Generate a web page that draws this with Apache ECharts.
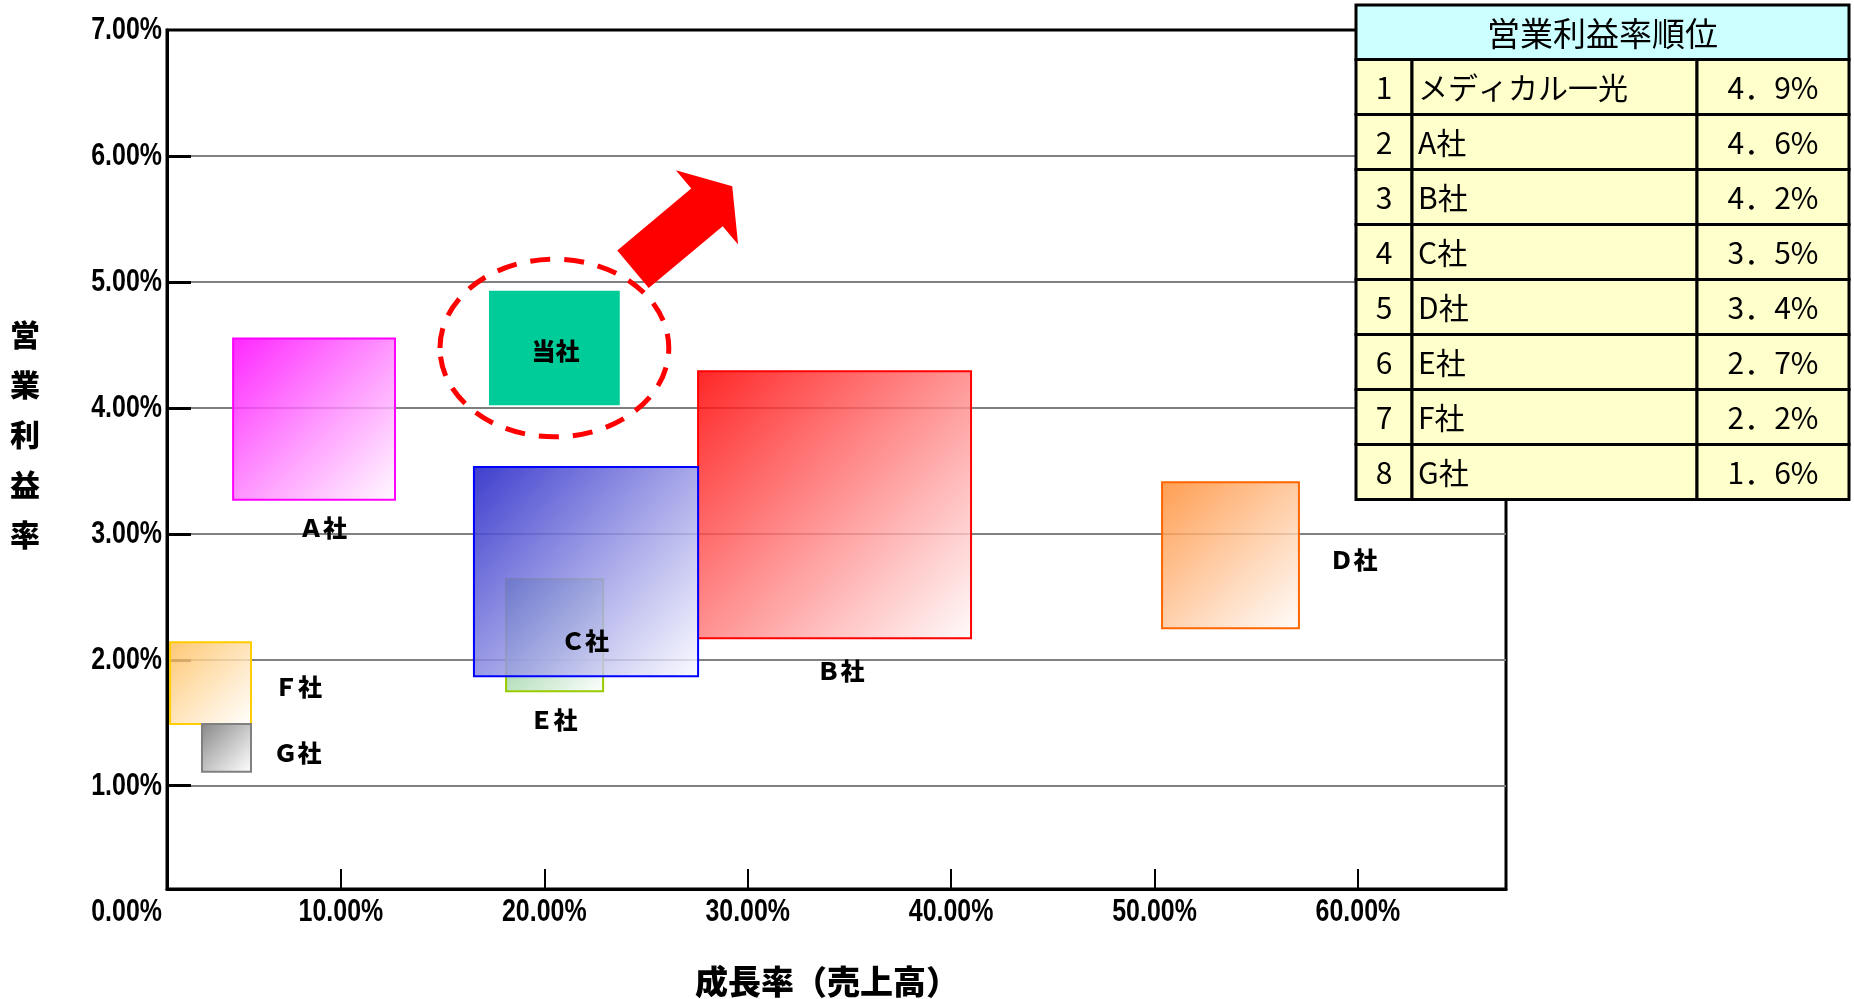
<!DOCTYPE html>
<html>
<head>
<meta charset="utf-8">
<title>営業利益率と成長率</title>
<script src="https://cdn.jsdelivr.net/npm/echarts@6/dist/echarts.min.js"></script>
<style>
  html, body { margin: 0; padding: 0; background: #ffffff; }
  #chart { width: 1854px; height: 999px; }
</style>
</head>
<body>
<div id="chart"></div>
<script>
// ---- data -------------------------------------------------------------
// competitor boxes (drawn in this order, later ones on top)
const companies  = ['Ａ社', 'Ｂ社', 'Ｄ社', 'Ｅ社', 'Ｃ社', 'Ｆ社', 'Ｇ社'];
// sales growth span of each box (%)
const growthLow  = [4.70, 27.56, 50.37, 18.12, 16.54, 1.60, 3.17];
const growthHigh = [12.66, 40.98, 57.10, 22.89, 27.56, 5.58, 5.58];
// operating margin span of each box (%)
const marginLow  = [3.27, 2.17, 2.25, 1.75, 1.87, 1.49, 1.11];
const marginHigh = [4.55, 4.29, 3.41, 2.64, 3.53, 2.14, 1.49];

// our own company
const ownName   = '当社';
const ownGrowth = [17.28, 23.71];
const ownMargin = [4.02, 4.93];

// direction arrow: [growth, margin] from -> to
const arrowFrom = [24.36, 5.10];
const arrowTo   = [29.24, 5.76];

// axis ranges, ticks and tick labels (%)
const xRange = [1.45, 67.28];
const yRange = [0.18, 7];
const xTicks = [10, 20, 30, 40, 50, 60];
const yTicks = [1, 2, 3, 4, 5, 6];
const xTickLabels = [10, 20, 30, 40, 50, 60];
const yTickLabels = [0, 1, 2, 3, 4, 5, 6, 7];

// ranking table
const rankTitle  = '営業利益率順位';
const rankNames  = ['メディカル一光', 'A社', 'B社', 'C社', 'D社', 'E社', 'F社', 'G社'];
const rankValues = [4.9, 4.6, 4.2, 3.5, 3.4, 2.7, 2.2, 1.6];

// ---- styles -----------------------------------------------------------
const CJK = '"Noto Sans CJK JP", "Noto Sans CJK SC", sans-serif';
const TICK_FONT = 'bold 32px "Liberation Sans", Arial, sans-serif';
const TICK_SQUEEZE = 0.78;   // condensed look of the tick numbers

const boxStyle = {
  'Ａ社': { edge: '#FF00FF', from: 'rgba(255,0,255,0.85)',  to: 'rgba(255,250,255,0.8)', at: 'bottom', dx: 9,    dy: 28.5 },
  'Ｂ社': { edge: '#FF0000', from: 'rgba(255,0,0,0.85)',    to: 'rgba(255,250,250,0.8)', at: 'bottom', dx: 6,    dy: 32.5 },
  'Ｃ社': { edge: '#0000FF', from: 'rgba(40,40,200,0.9)',   to: 'rgba(250,250,255,0.8)', at: 'bottom', dx: -1,   dy: -35 },
  'Ｄ社': { edge: '#FF6600', from: 'rgba(255,140,50,0.85)', to: 'rgba(255,252,250,0.8)', at: 'right',  dx: 54.5, dy: 4.5 },
  'Ｅ社': { edge: '#99CC00', from: 'rgba(60,170,80,0.75)',  to: 'rgba(255,255,255,0.8)', at: 'bottom', dx: -1,   dy: 29 },
  'Ｆ社': { edge: '#FFCC00', from: 'rgba(255,190,90,0.85)', to: 'rgba(255,255,255,0.8)', at: 'right',  dx: 47,   dy: 4 },
  'Ｇ社': { edge: '#808080', from: 'rgba(120,120,120,0.9)', to: 'rgba(255,255,255,0.8)', at: 'right',  dx: 46.5, dy: 4.5 }
};
const labelFont = '900 24px ' + CJK;

const pct = v => v.toFixed(2) + '%';

// ---- series renderers -------------------------------------------------
function renderBox(params, api) {
  const name = companies[params.dataIndex];
  const st = boxStyle[name];
  const tl = api.coord([api.value(0), api.value(3)]);
  const br = api.coord([api.value(1), api.value(2)]);
  const x = tl[0], y = tl[1], w = br[0] - tl[0], h = br[1] - tl[1];
  let lx, ly;
  if (st.at === 'right') { lx = x + w + st.dx; ly = y + h / 2 + st.dy; }
  else { lx = x + w / 2 + st.dx; ly = y + h + st.dy; }
  return {
    type: 'group',
    children: [
      {
        type: 'rect',
        shape: { x: x, y: y, width: w, height: h },
        style: {
          fill: new echarts.graphic.LinearGradient(0, 0, 1, 1, [
            { offset: 0, color: st.from },
            { offset: 1, color: st.to }
          ]),
          stroke: st.edge,
          lineWidth: 2
        }
      },
      {
        type: 'text', x: lx, y: ly,
        style: { text: name, fill: '#000', font: labelFont, align: 'center', verticalAlign: 'middle' }
      }
    ]
  };
}

function renderOwn(params, api) {
  const tl = api.coord([api.value(0), api.value(3)]);
  const br = api.coord([api.value(1), api.value(2)]);
  const x = tl[0], y = tl[1], w = br[0] - tl[0], h = br[1] - tl[1];
  const cx = x + w / 2, cy = y + h / 2;
  return {
    type: 'group',
    children: [
      { type: 'rect', shape: { x: x, y: y, width: w, height: h }, style: { fill: '#00CC99' } },
      {
        type: 'text', x: cx + 1, y: cy + 3,
        style: { text: ownName, fill: '#000', font: labelFont, align: 'center', verticalAlign: 'middle' }
      },
      {
        type: 'ellipse',
        shape: { cx: cx, cy: cy, rx: w / 2 + 49, ry: h / 2 + 31.5 },
        style: { fill: 'none', stroke: '#FF0000', lineWidth: 5, lineDash: [20, 14] }
      }
    ]
  };
}

function renderArrow(params, api) {
  const a = api.coord([api.value(0), api.value(1)]);
  const b = api.coord([api.value(2), api.value(3)]);
  const dx = b[0] - a[0], dy = b[1] - a[1];
  const len = Math.sqrt(dx * dx + dy * dy);
  const ux = dx / len, uy = dy / len;
  const nx = -uy, ny = ux;
  const shaft = 24.5, head = 48.5, headLen = 33;
  const bx = b[0] - ux * headLen, by = b[1] - uy * headLen;
  const pts = [
    [a[0] + nx * shaft, a[1] + ny * shaft],
    [bx + nx * shaft, by + ny * shaft],
    [bx + nx * head, by + ny * head],
    [b[0], b[1]],
    [bx - nx * head, by - ny * head],
    [bx - nx * shaft, by - ny * shaft],
    [a[0] - nx * shaft, a[1] - ny * shaft]
  ];
  return { type: 'polygon', shape: { points: pts }, style: { fill: '#FF0000' } };
}

// tick labels placed through the label axes, squeezed horizontally
function renderXTickLabel(params, api) {
  const v = api.value(0);
  const p = api.coord([v, 0]);
  return {
    type: 'text', x: p[0], y: p[1], scaleX: TICK_SQUEEZE,
    style: { text: pct(v), fill: '#000', font: TICK_FONT, align: 'center', verticalAlign: 'middle' }
  };
}
function renderYTickLabel(params, api) {
  const v = api.value(1);
  const p = api.coord([api.value(0), v]);
  return {
    type: 'text', x: p[0] - 5, y: p[1], scaleX: TICK_SQUEEZE,
    style: { text: pct(v), fill: '#000', font: TICK_FONT, align: 'right', verticalAlign: 'middle' }
  };
}

// ---- ranking table (graphic) -----------------------------------------
const table = { left: 1356, top: 5, cols: [56, 285, 152], headH: 54.5, rowH: 55 };
function buildTable() {
  const els = [];
  const totalW = table.cols[0] + table.cols[1] + table.cols[2];
  els.push({
    type: 'rect', z: 100,
    shape: { x: table.left, y: table.top, width: totalW, height: table.headH },
    style: { fill: '#CCFFFF', stroke: '#000', lineWidth: 3 }
  });
  els.push({
    type: 'text', z: 101,
    x: table.left + totalW / 2, y: table.top + table.headH / 2 + 1,
    style: { text: rankTitle, fill: '#000', font: '33px ' + CJK, align: 'center', verticalAlign: 'middle' }
  });
  rankNames.forEach((name, i) => {
    const y = table.top + table.headH + i * table.rowH;
    let x = table.left;
    table.cols.forEach(cw => {
      els.push({
        type: 'rect', z: 100,
        shape: { x: x, y: y, width: cw, height: table.rowH },
        style: { fill: '#FFFFCC', stroke: '#000', lineWidth: 3 }
      });
      x += cw;
    });
    const cy = y + table.rowH / 2 + 1;
    const font = '30px ' + CJK;
    els.push({ type: 'text', z: 101, x: table.left + table.cols[0] / 2, y: cy,
      style: { text: String(i + 1), fill: '#000', font: font, align: 'center', verticalAlign: 'middle' } });
    els.push({ type: 'text', z: 101, x: table.left + table.cols[0] + 6, y: cy,
      style: { text: name, fill: '#000', font: font, align: 'left', verticalAlign: 'middle' } });
    els.push({ type: 'text', z: 101, x: table.left + table.cols[0] + table.cols[1] + table.cols[2] / 2, y: cy,
      style: { text: rankValues[i].toFixed(1).replace('.', '．') + '%', fill: '#000', font: font, align: 'center', verticalAlign: 'middle' } });
  });
  return els;
}

// ---- chart ------------------------------------------------------------
const chart = echarts.init(document.getElementById('chart'), null, { renderer: 'canvas' });

chart.setOption({
  animation: false,
  backgroundColor: '#ffffff',
  grid: [
    // plot frame
    { left: 167, top: 30, right: 348, bottom: 110, show: true, borderColor: '#000', borderWidth: 3,
      containLabel: false, outerBoundsMode: 'none' },
    // label frame: origin of both scales
    { left: 137.5, top: 30, right: 348, bottom: 87, containLabel: false, outerBoundsMode: 'none' }
  ],
  xAxis: [
    {
      gridIndex: 0, type: 'value', min: xRange[0], max: xRange[1],
      name: '成長率（売上高）', nameLocation: 'middle', nameGap: 76,
      nameTextStyle: { fontFamily: CJK, fontSize: 33, fontWeight: 900, color: '#000', padding: [0, 19, 0, 0] },
      axisLine: { show: true, lineStyle: { color: '#000', width: 3 } },
      axisTick: { show: true, inside: true, length: 20, customValues: xTicks, lineStyle: { color: '#000', width: 2 } },
      axisLabel: { show: false },
      splitLine: { show: false }
    },
    {
      gridIndex: 1, type: 'value', min: 0, max: xRange[1], interval: 10,
      axisLine: { show: false }, axisTick: { show: false }, splitLine: { show: false },
      axisLabel: { show: false }
    }
  ],
  yAxis: [
    {
      gridIndex: 0, type: 'value', min: yRange[0], max: yRange[1],
      name: '営\n業\n利\n益\n率\n', nameLocation: 'middle', nameGap: 127, nameRotate: 0,
      nameTextStyle: { fontFamily: CJK, fontSize: 30, fontWeight: 900, color: '#000', lineHeight: 50 },
      axisLine: { show: true, lineStyle: { color: '#000', width: 3 } },
      axisTick: { show: true, inside: true, length: 24, customValues: yTicks, lineStyle: { color: '#000', width: 3 } },
      axisLabel: { show: false },
      splitLine: { show: true, lineStyle: { color: '#808080', width: 2 } }
    },
    {
      gridIndex: 1, type: 'value', min: 0, max: 7, interval: 1,
      axisLine: { show: false }, axisTick: { show: false }, splitLine: { show: false },
      axisLabel: { show: false }
    }
  ],
  series: [
    {
      type: 'custom', name: 'competitors', xAxisIndex: 0, yAxisIndex: 0,
      renderItem: renderBox,
      encode: { x: [0, 1], y: [2, 3] },
      data: companies.map((n, i) => [growthLow[i], growthHigh[i], marginLow[i], marginHigh[i]]),
      z: 3
    },
    {
      type: 'custom', name: ownName, xAxisIndex: 0, yAxisIndex: 0,
      renderItem: renderOwn,
      encode: { x: [0, 1], y: [2, 3] },
      data: [[ownGrowth[0], ownGrowth[1], ownMargin[0], ownMargin[1]]],
      z: 4
    },
    {
      type: 'custom', name: 'arrow', xAxisIndex: 0, yAxisIndex: 0,
      renderItem: renderArrow,
      encode: { x: [0, 2], y: [1, 3] },
      data: [[arrowFrom[0], arrowFrom[1], arrowTo[0], arrowTo[1]]],
      z: 5
    },
    {
      type: 'custom', name: 'x tick labels', xAxisIndex: 1, yAxisIndex: 1, silent: true,
      renderItem: renderXTickLabel,
      encode: { x: 0, y: 1 },
      data: xTickLabels.map(v => [v, 0])
    },
    {
      type: 'custom', name: 'y tick labels', xAxisIndex: 1, yAxisIndex: 1, silent: true,
      renderItem: renderYTickLabel,
      encode: { x: 0, y: 1 },
      data: yTickLabels.map(v => [xRange[0], v])
    }
  ],
  graphic: buildTable()
});
</script>
</body>
</html>
